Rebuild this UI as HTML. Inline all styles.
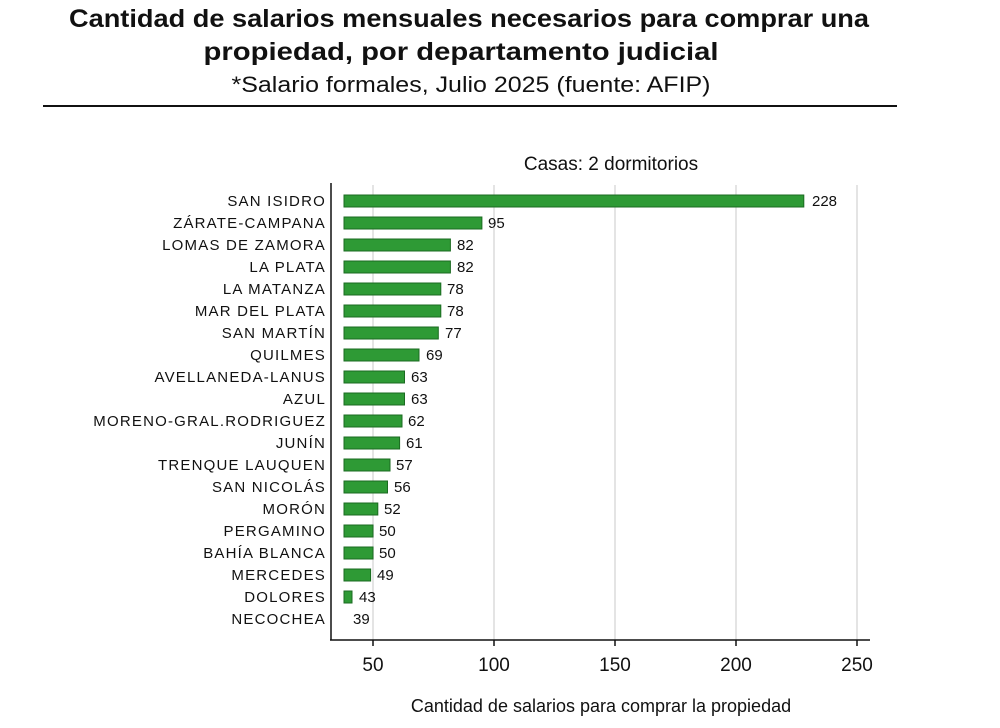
<!DOCTYPE html>
<html><head><meta charset="utf-8"><style>html,body{margin:0;padding:0;background:#fff}svg{display:block}</style></head>
<body>
<svg width="1000" height="728" xmlns="http://www.w3.org/2000/svg" font-family="Liberation Sans, sans-serif">
<rect width="1000" height="728" fill="#fff"/>
<text x="469" y="27" text-anchor="middle" font-size="25" font-weight="bold" fill="#111" textLength="800" lengthAdjust="spacingAndGlyphs">Cantidad de salarios mensuales necesarios para comprar una</text>
<text x="461" y="60" text-anchor="middle" font-size="25" font-weight="bold" fill="#111" textLength="515" lengthAdjust="spacingAndGlyphs">propiedad, por departamento judicial</text>
<text x="471" y="92" text-anchor="middle" font-size="22" fill="#111" textLength="479" lengthAdjust="spacingAndGlyphs">*Salario formales, Julio 2025 (fuente: AFIP)</text>
<rect x="43" y="105" width="854" height="2" fill="#111"/>
<text x="611" y="170" text-anchor="middle" font-size="19" fill="#111">Casas: 2 dormitorios</text>
<g stroke="#dcdcdc" stroke-width="1.5">
<line x1="373" y1="185" x2="373" y2="640"/><line x1="494" y1="185" x2="494" y2="640"/><line x1="615" y1="185" x2="615" y2="640"/><line x1="736" y1="185" x2="736" y2="640"/><line x1="857" y1="185" x2="857" y2="640"/>
</g>
<line x1="331" y1="183" x2="331" y2="640" stroke="#111" stroke-width="1.5"/>
<line x1="330" y1="640" x2="870" y2="640" stroke="#111" stroke-width="1.5"/>
<g stroke="#111" stroke-width="1.5">
<line x1="373" y1="640" x2="373" y2="646"/><line x1="494" y1="640" x2="494" y2="646"/><line x1="615" y1="640" x2="615" y2="646"/><line x1="736" y1="640" x2="736" y2="646"/><line x1="857" y1="640" x2="857" y2="646"/>
</g>
<g font-size="19" fill="#111" text-anchor="middle">
<text x="373" y="671">50</text><text x="494" y="671">100</text><text x="615" y="671">150</text><text x="736" y="671">200</text><text x="857" y="671">250</text>
</g>
<text x="601" y="712" text-anchor="middle" font-size="18" fill="#111">Cantidad de salarios para comprar la propiedad</text>
<g font-size="15" fill="#111" text-anchor="end" letter-spacing="1.2">
<text x="326" y="206">SAN ISIDRO</text>
<text x="326" y="228">ZÁRATE-CAMPANA</text>
<text x="326" y="250">LOMAS DE ZAMORA</text>
<text x="326" y="272">LA PLATA</text>
<text x="326" y="294">LA MATANZA</text>
<text x="326" y="316">MAR DEL PLATA</text>
<text x="326" y="338">SAN MARTÍN</text>
<text x="326" y="360">QUILMES</text>
<text x="326" y="382">AVELLANEDA-LANUS</text>
<text x="326" y="404">AZUL</text>
<text x="326" y="426">MORENO-GRAL.RODRIGUEZ</text>
<text x="326" y="448">JUNÍN</text>
<text x="326" y="470">TRENQUE LAUQUEN</text>
<text x="326" y="492">SAN NICOLÁS</text>
<text x="326" y="514">MORÓN</text>
<text x="326" y="536">PERGAMINO</text>
<text x="326" y="558">BAHÍA BLANCA</text>
<text x="326" y="580">MERCEDES</text>
<text x="326" y="602">DOLORES</text>
<text x="326" y="624">NECOCHEA</text>
</g>
<g fill="#2e9a35" stroke="#1b6b21" stroke-width="1">
<rect x="344" y="195" width="459.8" height="12"/>
<rect x="344" y="217" width="137.9" height="12"/>
<rect x="344" y="239" width="106.4" height="12"/>
<rect x="344" y="261" width="106.4" height="12"/>
<rect x="344" y="283" width="96.8" height="12"/>
<rect x="344" y="305" width="96.8" height="12"/>
<rect x="344" y="327" width="94.3" height="12"/>
<rect x="344" y="349" width="75" height="12"/>
<rect x="344" y="371" width="60.5" height="12"/>
<rect x="344" y="393" width="60.5" height="12"/>
<rect x="344" y="415" width="58" height="12"/>
<rect x="344" y="437" width="55.6" height="12"/>
<rect x="344" y="459" width="46" height="12"/>
<rect x="344" y="481" width="43.5" height="12"/>
<rect x="344" y="503" width="33.8" height="12"/>
<rect x="344" y="525" width="29" height="12"/>
<rect x="344" y="547" width="29" height="12"/>
<rect x="344" y="569" width="26.6" height="12"/>
<rect x="344" y="591" width="8" height="12"/>
</g>
<g font-size="15" fill="#111">
<text x="812" y="206">228</text>
<text x="488" y="228">95</text>
<text x="457" y="250">82</text>
<text x="457" y="272">82</text>
<text x="447" y="294">78</text>
<text x="447" y="316">78</text>
<text x="445" y="338">77</text>
<text x="426" y="360">69</text>
<text x="411" y="382">63</text>
<text x="411" y="404">63</text>
<text x="408" y="426">62</text>
<text x="406" y="448">61</text>
<text x="396" y="470">57</text>
<text x="394" y="492">56</text>
<text x="384" y="514">52</text>
<text x="379" y="536">50</text>
<text x="379" y="558">50</text>
<text x="377" y="580">49</text>
<text x="359" y="602">43</text>
<text x="353" y="624">39</text>
</g>
</svg>
</body></html>
